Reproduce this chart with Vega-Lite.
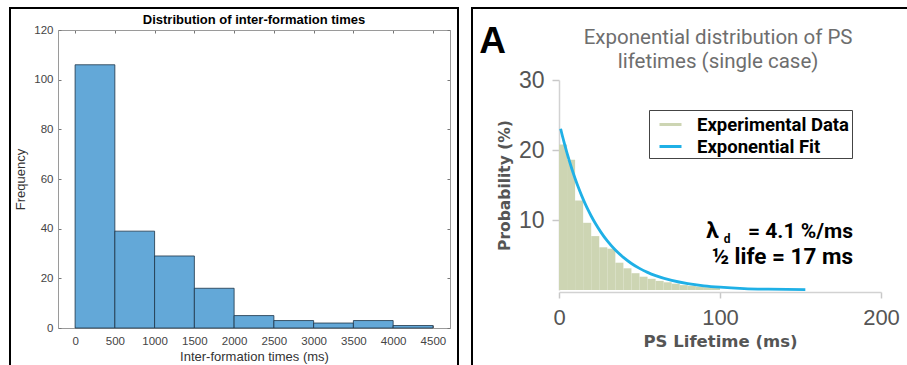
{
  "$schema": "https://vega.github.io/schema/vega-lite/v6.json",
  "padding": {"left": 9, "top": 7, "right": 0, "bottom": 0},
  "spacing": 12,
  "background": "white",
  "config": {
    "axis": {"grid": false},
    "view": {"fill": "white"}
  },
  "resolve": {"legend": {"color": "independent"}},
  "hconcat": [
    {
      "width": 448,
      "height": 358,
      "view": {"stroke": "black", "strokeWidth": 2, "strokeDash": [806, 448, 358]},
      "resolve": {"axis": {"x": "independent", "y": "independent"}},
      "layer": [
        {
          "data": {
            "name": "histogram",
            "values": [
              {"start": 0, "end": 500, "count": 106},
              {"start": 500, "end": 1000, "count": 39},
              {"start": 1000, "end": 1500, "count": 29},
              {"start": 1500, "end": 2000, "count": 16},
              {"start": 2000, "end": 2500, "count": 5},
              {"start": 2500, "end": 3000, "count": 3},
              {"start": 3000, "end": 3500, "count": 2},
              {"start": 3500, "end": 4000, "count": 3},
              {"start": 4000, "end": 4500, "count": 1}
            ]
          },
          "mark": {"type": "rect", "fill": "#63a8d8", "stroke": "#1d3346", "strokeWidth": 0.8},
          "encoding": {
            "x": {
              "field": "start", "type": "quantitative",
              "scale": {"domain": [-215, 4715], "range": [48, 440], "nice": false, "zero": false},
              "axis": {
                "orient": "bottom", "offset": -38, "values": [0, 500, 1000, 1500, 2000, 2500, 3000, 3500, 4000, 4500], "format": "d",
                "labelFlush": false, "domainColor": "#9a9a9a", "tickColor": "#777", "tickSize": -3, "labelPadding": 10,
                "labelFont": "Liberation Sans", "labelFontSize": 11.5, "labelColor": "#444",
                "title": "Inter-formation times (ms)", "titleFont": "Liberation Sans", "titleFontSize": 13,
                "titleFontWeight": "normal", "titleColor": "#333", "titlePadding": 4
              }
            },
            "x2": {"field": "end"},
            "y": {
              "field": "count", "type": "quantitative",
              "scale": {"domain": [0, 120], "range": [320, 22], "nice": false},
              "axis": {
                "orient": "left", "offset": -48, "values": [0, 20, 40, 60, 80, 100, 120],
                "domainColor": "#9a9a9a", "tickColor": "#777", "tickSize": -3, "labelPadding": 8,
                "labelFont": "Liberation Sans", "labelFontSize": 11.5, "labelColor": "#444",
                "title": "Frequency", "titleFont": "Liberation Sans", "titleFontSize": 13,
                "titleFontWeight": "normal", "titleColor": "#333", "titlePadding": 6
              }
            },
            "y2": {"datum": 0}
          }
        },
        {
          "data": {"name": "histogram"},
          "mark": {"type": "rect", "opacity": 0},
          "encoding": {
            "x": {
              "field": "start", "type": "quantitative",
              "axis": {
                "orient": "top", "offset": -22, "values": [0, 500, 1000, 1500, 2000, 2500, 3000, 3500, 4000, 4500],
                "domainColor": "#9a9a9a", "tickColor": "#777", "tickSize": -3, "labels": false, "title": null
              }
            },
            "x2": {"field": "end"},
            "y": {
              "field": "count", "type": "quantitative",
              "axis": {
                "orient": "right", "offset": -8, "values": [0, 20, 40, 60, 80, 100, 120],
                "domainColor": "#9a9a9a", "tickColor": "#777", "tickSize": -3, "labels": false, "title": null
              }
            },
            "y2": {"datum": 0}
          }
        },
        {
          "data": {"values": [{"label": "Distribution of inter-formation times"}]},
          "mark": {"type": "text", "font": "Liberation Sans", "fontSize": 13, "fontWeight": "bold", "color": "black", "align": "center", "baseline": "alphabetic"},
          "encoding": {
            "text": {"field": "label"},
            "x": {"datum": 2250, "type": "quantitative", "axis": null},
            "y": {"datum": 122.3, "type": "quantitative", "axis": null}
          }
        }
      ]
    },
    {
      "width": 437,
      "height": 358,
      "view": {"stroke": "black", "strokeWidth": 2, "strokeDash": [437, 795, 358]},
      "resolve": {"axis": {"x": "independent", "y": "independent"}},
      "layer": [
        {
          "data": {
            "values": [
              {"start": 0, "end": 5, "p": 20.8},
              {"start": 5, "end": 10, "p": 18.6},
              {"start": 10, "end": 15, "p": 12.8},
              {"start": 15, "end": 20, "p": 9.6},
              {"start": 20, "end": 25, "p": 7.7},
              {"start": 25, "end": 30, "p": 6.1},
              {"start": 30, "end": 35, "p": 5.9},
              {"start": 35, "end": 40, "p": 3.9},
              {"start": 40, "end": 45, "p": 3.1},
              {"start": 45, "end": 50, "p": 2.4},
              {"start": 50, "end": 55, "p": 1.9},
              {"start": 55, "end": 60, "p": 1.6},
              {"start": 60, "end": 65, "p": 1.3},
              {"start": 65, "end": 70, "p": 1.1},
              {"start": 70, "end": 75, "p": 0.9},
              {"start": 75, "end": 80, "p": 0.7},
              {"start": 80, "end": 85, "p": 0.6},
              {"start": 85, "end": 90, "p": 0.5},
              {"start": 90, "end": 95, "p": 0.4},
              {"start": 95, "end": 100, "p": 0.3}
            ]
          },
          "mark": {"type": "rect", "fill": "#cdd5b3", "strokeWidth": 0},
          "encoding": {
            "x": {
              "field": "start", "type": "quantitative",
              "scale": {"domain": [0, 200], "range": [87, 409], "nice": false, "zero": false},
              "axis": {
                "orient": "bottom", "offset": -74, "values": [0, 100, 200], "labelFlush": false,
                "domainColor": "#d2d2d2", "domainWidth": 1.5, "tickColor": "#c8c8c8", "tickWidth": 1.5, "tickSize": 6,
                "labelPadding": 9, "labelFont": "Liberation Sans", "labelFontSize": 22, "labelColor": "#555",
                "title": "PS Lifetime (ms)", "titleFont": "DejaVu Sans", "titleFontSize": 16.5,
                "titleFontWeight": "bold", "titleColor": "#555", "titlePadding": 5
              }
            },
            "x2": {"field": "end"},
            "y": {
              "field": "p", "type": "quantitative",
              "scale": {"domain": [0, 30], "range": [282, 72], "nice": false},
              "axis": {
                "orient": "left", "offset": -87, "values": [10, 20, 30],
                "domainColor": "#d2d2d2", "domainWidth": 1.5, "tickColor": "#c8c8c8", "tickWidth": 1.5, "tickSize": 7,
                "labelPadding": 8, "labelFont": "Liberation Sans", "labelFontSize": 23, "labelColor": "#555",
                "title": "Probability (%)", "titleFont": "DejaVu Sans", "titleFontSize": 15.5,
                "titleFontWeight": "bold", "titleColor": "#555", "titlePadding": 6
              }
            },
            "y2": {"datum": 0}
          }
        },
        {
          "data": {
            "values": [
              {"t": 1, "p": 23.04, "series": "Exponential Fit"},
              {"t": 2, "p": 22.11, "series": "Exponential Fit"},
              {"t": 3, "p": 21.22, "series": "Exponential Fit"},
              {"t": 4, "p": 20.37, "series": "Exponential Fit"},
              {"t": 5, "p": 19.55, "series": "Exponential Fit"},
              {"t": 6, "p": 18.77, "series": "Exponential Fit"},
              {"t": 7, "p": 18.01, "series": "Exponential Fit"},
              {"t": 8, "p": 17.29, "series": "Exponential Fit"},
              {"t": 10, "p": 15.93, "series": "Exponential Fit"},
              {"t": 12, "p": 14.67, "series": "Exponential Fit"},
              {"t": 14, "p": 13.52, "series": "Exponential Fit"},
              {"t": 16, "p": 12.45, "series": "Exponential Fit"},
              {"t": 18, "p": 11.47, "series": "Exponential Fit"},
              {"t": 20, "p": 10.57, "series": "Exponential Fit"},
              {"t": 23, "p": 9.35, "series": "Exponential Fit"},
              {"t": 26, "p": 8.27, "series": "Exponential Fit"},
              {"t": 30, "p": 7.01, "series": "Exponential Fit"},
              {"t": 35, "p": 5.71, "series": "Exponential Fit"},
              {"t": 40, "p": 4.66, "series": "Exponential Fit"},
              {"t": 45, "p": 3.79, "series": "Exponential Fit"},
              {"t": 50, "p": 3.09, "series": "Exponential Fit"},
              {"t": 55, "p": 2.52, "series": "Exponential Fit"},
              {"t": 60, "p": 2.05, "series": "Exponential Fit"},
              {"t": 70, "p": 1.36, "series": "Exponential Fit"},
              {"t": 80, "p": 0.9, "series": "Exponential Fit"},
              {"t": 90, "p": 0.6, "series": "Exponential Fit"},
              {"t": 100, "p": 0.4, "series": "Exponential Fit"},
              {"t": 115, "p": 0.21, "series": "Exponential Fit"},
              {"t": 130, "p": 0.12, "series": "Exponential Fit"},
              {"t": 153, "p": 0.05, "series": "Exponential Fit"}
            ]
          },
          "mark": {"type": "line", "strokeWidth": 2.8, "interpolate": "monotone"},
          "encoding": {
            "x": {"field": "t", "type": "quantitative", "axis": null},
            "y": {"field": "p", "type": "quantitative", "axis": null},
            "color": {
              "field": "series", "type": "nominal",
              "scale": {"domain": ["Experimental Data", "Exponential Fit"], "range": ["#cdd5b3", "#1fb0e6"]},
              "legend": {
                "orient": "none", "legendX": 177, "legendY": 102, "title": null,
                "symbolType": "stroke", "symbolSize": 484, "symbolStrokeWidth": 3, "symbolOffset": 7,
                "labelFont": "Roboto", "labelFontWeight": "bold", "labelFontSize": 18.5, "labelColor": "black",
                "labelOffset": 14, "rowPadding": 0, "padding": 2,
                "strokeColor": "#444", "fillColor": "white"
              }
            }
          }
        },
        {
          "data": {"values": [{"label": "A"}]},
          "mark": {"type": "text", "font": "Liberation Sans", "fontSize": 37, "fontWeight": "bold", "color": "black", "align": "left", "baseline": "alphabetic"},
          "encoding": {
            "text": {"field": "label"},
            "x": {"datum": -49.5, "type": "quantitative", "axis": null},
            "y": {"datum": 33.86, "type": "quantitative", "axis": null}
          }
        },
        {
          "data": {"values": [{"label": ["Exponential distribution of PS", "lifetimes (single case)"]}]},
          "mark": {"type": "text", "lineHeight": 24, "font": "Roboto", "fontSize": 20.5, "fontWeight": "normal", "color": "#6e6e6e", "align": "center", "baseline": "alphabetic"},
          "encoding": {
            "text": {"field": "label"},
            "x": {"datum": 98.8, "type": "quantitative", "axis": null},
            "y": {"datum": 35.2, "type": "quantitative", "axis": null}
          }
        },
        {
          "data": {"values": [{"label": "λ"}]},
          "mark": {"type": "text", "font": "Roboto", "fontSize": 22.5, "fontWeight": "bold", "color": "black", "align": "left", "baseline": "alphabetic"},
          "encoding": {
            "text": {"field": "label"},
            "x": {"datum": 91.4, "type": "quantitative", "axis": null},
            "y": {"datum": 7.43, "type": "quantitative", "axis": null}
          }
        },
        {
          "data": {"values": [{"label": "d"}]},
          "mark": {"type": "text", "font": "Roboto", "fontSize": 12, "fontWeight": "bold", "color": "black", "align": "left", "baseline": "alphabetic"},
          "encoding": {
            "text": {"field": "label"},
            "x": {"datum": 102.4, "type": "quantitative", "axis": null},
            "y": {"datum": 6.7, "type": "quantitative", "axis": null}
          }
        },
        {
          "data": {"values": [{"label": "= 4.1 %/ms"}]},
          "mark": {"type": "text", "font": "Roboto", "fontSize": 21, "fontWeight": "bold", "color": "black", "align": "right", "baseline": "alphabetic"},
          "encoding": {
            "text": {"field": "label"},
            "x": {"datum": 182.6, "type": "quantitative", "axis": null},
            "y": {"datum": 7.43, "type": "quantitative", "axis": null}
          }
        },
        {
          "data": {"values": [{"label": "½ life = 17 ms"}]},
          "mark": {"type": "text", "font": "Roboto", "fontSize": 22.5, "fontWeight": "bold", "color": "black", "align": "right", "baseline": "alphabetic"},
          "encoding": {
            "text": {"field": "label"},
            "x": {"datum": 182.6, "type": "quantitative", "axis": null},
            "y": {"datum": 3.71, "type": "quantitative", "axis": null}
          }
        }
      ]
    }
  ]
}
